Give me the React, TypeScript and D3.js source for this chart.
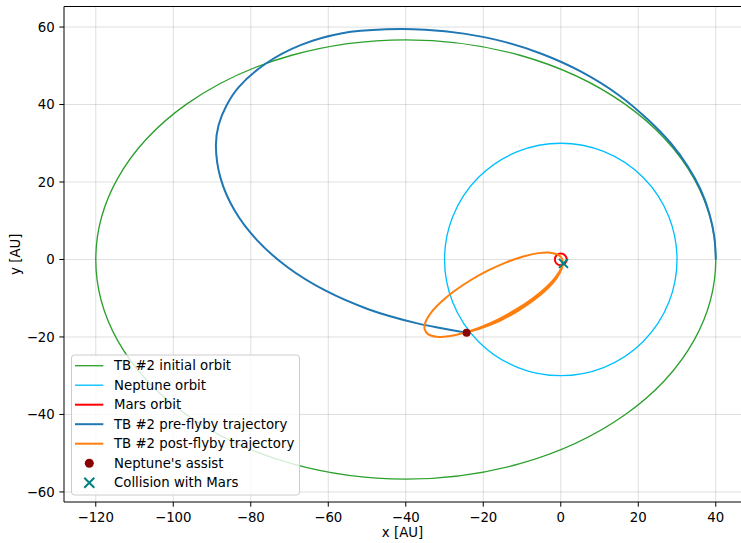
import React from "react";
import * as d3 from "d3";

// orbits drawn as ellipses: centre and semi-axes in AU
const orbitNames = ["TB #2 initial orbit", "Neptune orbit", "Mars orbit"];
const orbitCx = [-40, 0, 0];
const orbitCy = [0, 0, 0];
const orbitRx = [80, 30, 1.52];
const orbitRy = [56.7, 30, 1.52];

// TB #2 pre-flyby trajectory
const preFlyby: [number, number][] = [
  [40.0, 0.0], [39.6, 6.0], [38.3, 12.0], [36.1, 18.0], [32.8, 24.0], [28.4, 30.0],
  [22.6, 36.0], [15.0, 42.4], [5.0, 48.6], [-5.0, 53.1], [-15.0, 56.3], [-25.0, 58.3],
  [-35.0, 59.3], [-45.0, 59.4], [-56.4, 58.4], [-67.0, 55.4], [-76.1, 50.6],
  [-83.1, 44.5], [-86.3, 39.7], [-88.3, 34.7], [-89.0, 29.5], [-87.8, 21.0],
  [-84.2, 12.7], [-78.4, 5.0], [-70.5, -2.0], [-60.8, -8.0], [-49.5, -12.9],
  [-37.0, -16.5], [-30.4, -17.8], [-24.3, -18.9],
];

// TB #2 post-flyby trajectory: first loop
const postFlybyLoop: [number, number][] = [
  [-24.36, -18.79], [-20.62, -17.46], [-15.97, -15.37], [-11.41, -12.84], [-7.26, -10.06],
  [-3.80, -7.22], [-1.25, -4.50], [0.19, -2.10], [0.49, -0.75], [0.25, 0.34],
  [-0.53, 1.14], [-2.64, 1.76], [-5.75, 1.64], [-9.65, 0.79], [-14.08, -0.74],
  [-18.73, -2.83], [-23.29, -5.36], [-27.44, -8.14], [-30.90, -10.98], [-33.45, -13.70],
  [-34.89, -16.10], [-35.14, -18.03], [-34.17, -19.34], [-32.06, -19.96], [-28.95, -19.84],
  [-24.36, -18.79],
];

// later passes over the lower arc before the collision
const postFlybyPasses: [number, number][][] = [
  [[-24.36, -18.79], [-20.55, -17.59], [-15.83, -15.63], [-11.27, -13.10], [-7.12, -10.32],
   [-3.66, -7.48], [-1.16, -4.68], [0.24, -2.19], [0.49, -0.75]],
  [[-24.36, -18.79], [-20.50, -17.68], [-15.74, -15.81], [-11.15, -13.32], [-7.00, -10.54],
   [-3.57, -7.66], [-1.09, -4.81], [0.26, -2.23], [0.49, -0.75]],
];

const assistPoint: [number, number] = [-24.3, -18.9];
const collisionPoint: [number, number] = [0.7, -1.0];

const xTicks = [-120, -100, -80, -60, -40, -20, 0, 20, 40];
const yTicks = [-60, -40, -20, 0, 20, 40, 60];

const legendLabels = [
  "TB #2 initial orbit",
  "Neptune orbit",
  "Mars orbit",
  "TB #2 pre-flyby trajectory",
  "TB #2 post-flyby trajectory",
  "Neptune's assist",
  "Collision with Mars",
];

const W = 741;
const H = 543;
const M = { left: 64, right: 746, top: 6.5, bottom: 502 };

const FONT = "DejaVu Sans, sans-serif";
const fmt = (v: number) => (v < 0 ? "\u2212" + Math.abs(v) : String(v));

export default function App() {
  const x = d3.scaleLinear().domain([-128.2, -128.2 + (M.right - M.left) / 3.875]).range([M.left, M.right]);
  const y = d3.scaleLinear().domain([-62.6, 65.3]).range([M.bottom, M.top]);

  const line = d3
    .line<[number, number]>()
    .x((d) => x(d[0]))
    .y((d) => y(d[1]))
    .curve(d3.curveCatmullRom.alpha(0.5));

  const orbitColors = ["#2ca02c", "#00bfff", "red"];
  const orbitWidths = [1.33, 1.33, 2];
  const blue = "#1f77b4";
  const orange = "#ff7f0e";
  const assistColor = "#8b0000";
  const collisionColor = "#008080";

  const legend = { x: 71.5, y: 355, w: 228, h: 140, row: 19.5 };
  const cx = x(collisionPoint[0]);
  const cy0 = y(collisionPoint[1]);

  return (
    <svg width={W} height={H} style={{ position: "absolute", left: 0, top: 0, background: "#fff" }} fontFamily={FONT}>
      <defs>
        <clipPath id="plotClip">
          <rect x={M.left} y={M.top} width={M.right - M.left} height={M.bottom - M.top} />
        </clipPath>
      </defs>
      <rect x={0} y={0} width={W} height={H} fill="#fff" />

      {/* grid */}
      <g stroke="#b0b0b0" strokeOpacity={0.4} strokeWidth={1}>
        {xTicks.map((t) => (
          <line key={"gx" + t} x1={x(t)} x2={x(t)} y1={M.top} y2={M.bottom} />
        ))}
        {yTicks.map((t) => (
          <line key={"gy" + t} x1={M.left} x2={M.right} y1={y(t)} y2={y(t)} />
        ))}
      </g>

      <g clipPath="url(#plotClip)" fill="none">
        {orbitNames.map((n, i) => (
          <ellipse
            key={n}
            cx={x(orbitCx[i])}
            cy={y(orbitCy[i])}
            rx={x(orbitRx[i]) - x(0)}
            ry={y(0) - y(orbitRy[i])}
            stroke={orbitColors[i]}
            strokeWidth={orbitWidths[i]}
          />
        ))}
        <path d={line(preFlyby) || ""} stroke={blue} strokeWidth={2} />
        <path d={line(postFlybyLoop) || ""} stroke={orange} strokeWidth={2} />
        {postFlybyPasses.map((p, i) => (
          <path key={i} d={line(p) || ""} stroke={orange} strokeWidth={2} />
        ))}
        <circle cx={x(assistPoint[0])} cy={y(assistPoint[1])} r={4} fill={assistColor} />
        <g stroke={collisionColor} strokeWidth={2}>
          <line x1={cx - 4.5} x2={cx + 4.5} y1={cy0 - 4.5} y2={cy0 + 4.5} />
          <line x1={cx - 4.5} x2={cx + 4.5} y1={cy0 + 4.5} y2={cy0 - 4.5} />
        </g>
      </g>

      {/* spines (right one falls outside the picture) */}
      <g stroke="#000" strokeWidth={1}>
        <line x1={M.left} x2={M.left} y1={M.top} y2={M.bottom} />
        <line x1={M.left} x2={W} y1={M.top} y2={M.top} />
        <line x1={M.left} x2={W} y1={M.bottom} y2={M.bottom} />
      </g>

      {/* axes */}
      <g fontSize={13.3} fill="#000">
        {xTicks.map((t) => (
          <g key={"xt" + t}>
            <line x1={x(t)} x2={x(t)} y1={M.bottom} y2={M.bottom + 4.7} stroke="#000" strokeWidth={1} />
            <text x={x(t)} y={M.bottom + 19.5} textAnchor="middle">{fmt(t)}</text>
          </g>
        ))}
        {yTicks.map((t) => (
          <g key={"yt" + t}>
            <line x1={M.left - 4.7} x2={M.left} y1={y(t)} y2={y(t)} stroke="#000" strokeWidth={1} />
            <text x={M.left - 9.3} y={y(t)} dy="0.36em" textAnchor="end">{fmt(t)}</text>
          </g>
        ))}
        <text x={(64 + 741) / 2} y={537} textAnchor="middle">x [AU]</text>
        <text transform={`translate(20,${(M.top + M.bottom) / 2}) rotate(-90)`} textAnchor="middle">y [AU]</text>
      </g>

      {/* legend */}
      <g fontSize={13.3}>
        <rect x={legend.x} y={legend.y} width={legend.w} height={legend.h} rx={3} fill="#fff" fillOpacity={0.8} stroke="#cccccc" strokeWidth={1} />
        {legendLabels.map((lab, i) => {
          const ly = legend.y + 10.7 + i * legend.row;
          const colors = [orbitColors[0], orbitColors[1], orbitColors[2], blue, orange];
          const widths = [1.33, 1.33, 2, 2, 2];
          return (
            <g key={lab}>
              {i < 5 && <line x1={75} x2={103.3} y1={ly} y2={ly} stroke={colors[i]} strokeWidth={widths[i]} />}
              {i === 5 && <circle cx={89.3} cy={ly} r={4.5} fill={assistColor} />}
              {i === 6 && (
                <g stroke={collisionColor} strokeWidth={2}>
                  <line x1={84.3} x2={94.3} y1={ly - 5} y2={ly + 5} />
                  <line x1={84.3} x2={94.3} y1={ly + 5} y2={ly - 5} />
                </g>
              )}
              <text x={114} y={ly} dy="0.36em" fill="#000">{lab}</text>
            </g>
          );
        })}
      </g>
    </svg>
  );
}
